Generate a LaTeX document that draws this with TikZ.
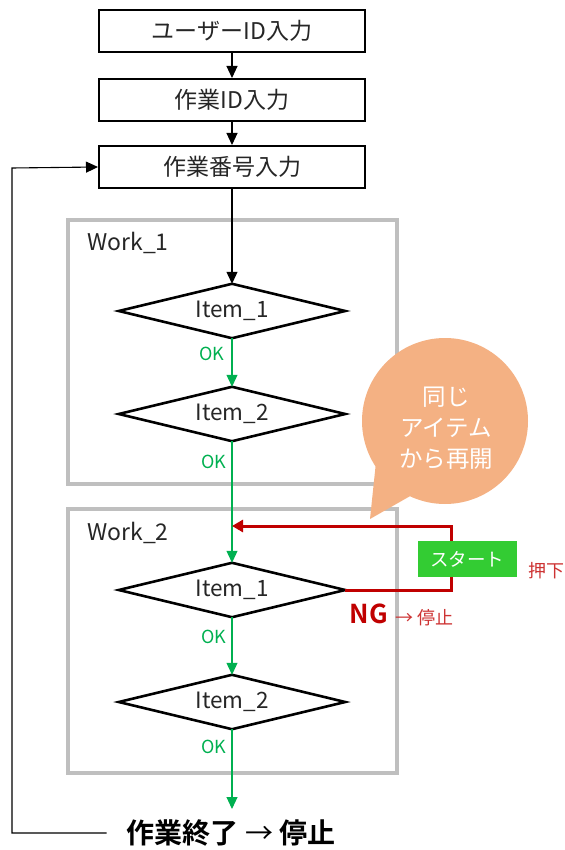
\documentclass[tikz,border=0pt]{standalone}
\usepackage{fontspec}
\setmainfont{Noto Sans CJK JP}
\newfontfamily\jpbold{Noto Sans CJK JP Bold}
\usetikzlibrary{arrows.meta}
\definecolor{okgreen}{HTML}{00B050}
\definecolor{ngred}{HTML}{C00000}
\definecolor{framegray}{HTML}{BFBFBF}
\definecolor{bubble}{HTML}{F4B183}
\definecolor{btngreen}{HTML}{33CC33}
\begin{document}
\begin{tikzpicture}[x=1pt,y=-1pt,
  stepbox/.style={draw,line width=2pt,minimum width=266pt,minimum height=42pt,inner sep=0pt,font=\fontsize{23}{25}\selectfont,text=black!85},
  dia/.style={rectangle,minimum width=226pt,minimum height=54pt,inner sep=0pt,font=\fontsize{22.5}{24}\selectfont,text=black!85},
  diaedge/.style={line width=2.6pt,line join=miter},
  frame/.style={draw=framegray,line width=4.5pt},
  conn/.style={line width=1.1pt,-{Triangle[width=11pt,length=12pt]}},
  okline/.style={conn,draw=okgreen},
  oklbl/.style={text=okgreen,font=\fontsize{18}{20}\selectfont,inner sep=0pt},
  wlbl/.style={font=\fontsize{23}{25}\selectfont,text=black!85,inner sep=0pt}]
\useasboundingbox (0,0) rectangle (564,850);
% frames
\draw[frame] (68,220) rectangle (397,484);
\draw[frame] (68,509) rectangle (397,773);
\node[wlbl] (w1) at (128,243) {Work\_1};
\node[wlbl] (w2) at (128,533) {Work\_2};
% steps
\node[stepbox] (b1) at (232,31) {ユーザーID入力};
\node[stepbox] (b2) at (232,100) {作業ID入力};
\node[stepbox] (b3) at (232,167) {作業番号入力};
% diamonds
\node[dia] (d11) at (232,311) {Item\_1};
\node[dia] (d12) at (232,414) {Item\_2};
\node[dia] (d21) at (232,590) {Item\_1};
\node[dia] (d22) at (232,702) {Item\_2};
\foreach \d in {d11,d12,d21,d22}
  \draw[diaedge] (\d.north) -- (\d.east) -- (\d.south) -- (\d.west) -- cycle;
% final
\node[font=\fontsize{28}{30}\selectfont,inner sep=0pt] (fin) at (231,833) {{\jpbold 作業終了} → {\jpbold 停止}};
\coordinate (finend) at (232,809);
\coordinate (cL) at (12,833);
\coordinate (cT) at (12,168);
\coordinate (join) at (232,526);
\coordinate (rR) at (451,590);
\coordinate (rT) at (451,526);
% connectors
\draw[conn] (b1) -- (b2);
\draw[conn] (b2) -- (b3);
\draw[conn] (b3) -- (d11);
\draw[okline] (d11) -- (d12);
\draw[okline] (d12) -- (d21);
\draw[okline] (d21) -- (d22);
\draw[okline] (d22) -- (finend);
\draw[conn] ([xshift=-20pt]fin.west) -- (cL) -- (cT) -- (b3.west);
\draw[line width=3pt,draw=ngred,-{Triangle[width=12pt,length=11pt]}] (d21.east) -- (rR) -- (rT) -- (join);
% labels
\node[oklbl] (ok1) at (212,354) {OK};
\node[oklbl] (ok2) at (214,462) {OK};
\node[oklbl] (ok3) at (214,637) {OK};
\node[oklbl] (ok4) at (214,747) {OK};
% start button
\node[fill=btngreen,minimum width=99pt,minimum height=36pt,inner sep=0pt,text=white,font=\fontsize{18.5}{20}\selectfont] (start) at (467,559) {スタート};
\node[text=ngred!80,font=\fontsize{18}{20}\selectfont,inner sep=0pt] (push) at (546,571) {押下};
\node[text=ngred,font=\jpbold\fontsize{26}{28}\selectfont,inner sep=0pt] (ng) at (369,614) {NG};
\node[text=ngred!80,font=\fontsize{18}{20}\selectfont,inner sep=0pt,anchor=west] (stop) at (395,618) {→ 停止};
% bubble
\fill[bubble] (445,421) circle (83);
\fill[bubble] (376,462) -- (370,519) -- (412,495) -- cycle;
\node[text=white,align=center,font=\fontsize{23.5}{31}\selectfont,inner sep=0pt] (bt) at (446,428) {同じ\\アイテム\\から再開};
\end{tikzpicture}
\end{document}
